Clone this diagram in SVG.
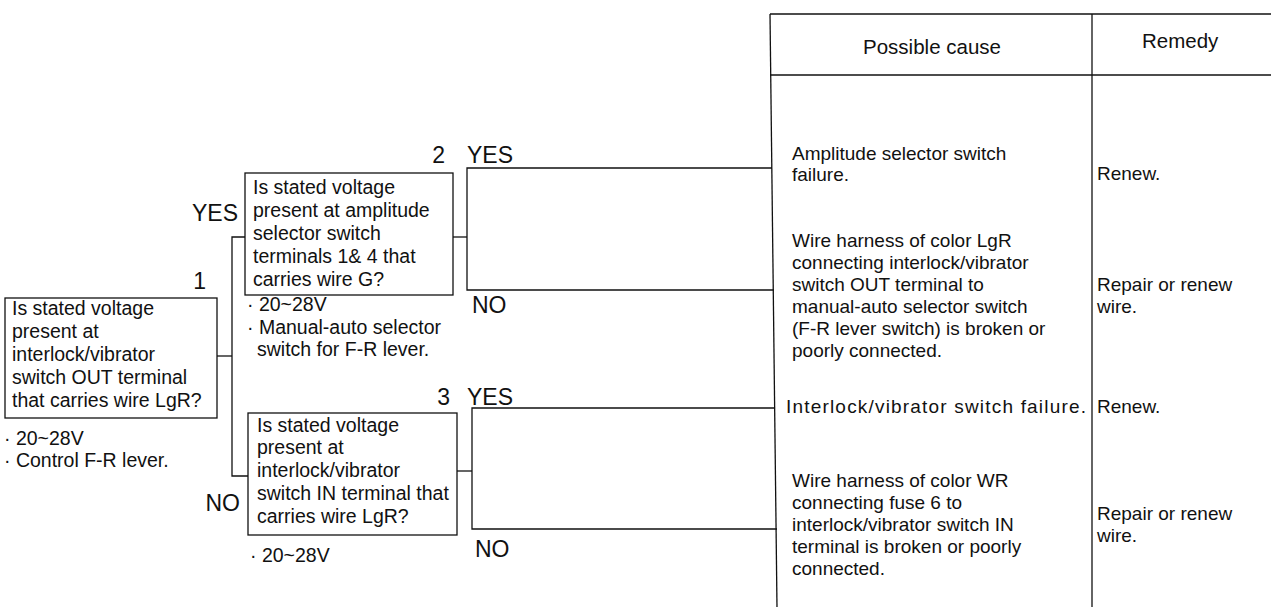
<svg xmlns="http://www.w3.org/2000/svg" width="1271" height="607" viewBox="0 0 1271 607">
  <style>
    .ln { stroke: #111; stroke-width: 1.3; fill: none; }
    .box { stroke: #111; stroke-width: 1.3; fill: #fff; }
    .t { font-family: "Liberation Sans", Arial, sans-serif; font-size: 19.5px; fill: #111; }
    .tc { font-family: "Liberation Sans", Arial, sans-serif; font-size: 19px; fill: #111; }
    .hd { font-family: "Liberation Sans", Arial, sans-serif; font-size: 20.5px; fill: #111; }
    .lb { font-family: "Liberation Sans", Arial, sans-serif; font-size: 23px; fill: #111; }
  </style>
  <rect width="1271" height="607" fill="#fff"/>

  <!-- connectors -->
  <g id="connectors">
    <!-- question 1 branches -->
    <path class="ln" d="M217,356 H232"/>
    <path class="ln" d="M245,237 H232 V476 H248"/>
    <!-- question 2 outcomes -->
    <path class="ln" d="M453,237 H467"/>
    <path class="ln" d="M772,168 H467 V290 H774"/>
    <!-- question 3 outcomes -->
    <path class="ln" d="M457,471 H472"/>
    <path class="ln" d="M775,408 H472 V529 H777"/>
  </g>

  <!-- step 1 -->
  <g id="q1">
    <rect class="box" x="5" y="298" width="212" height="120"/>
    <text class="t" x="12" y="315">Is stated voltage</text>
    <text class="t" x="12" y="338">present at</text>
    <text class="t" x="12" y="361">interlock/vibrator</text>
    <text class="t" x="12" y="384">switch OUT terminal</text>
    <text class="t" x="12" y="407">that carries wire LgR?</text>
    <text class="lb" x="206" y="289" text-anchor="end">1</text>
    <text class="t" x="4" y="445">· 20~28V</text>
    <text class="t" x="4" y="467">· Control F-R lever.</text>
  </g>

  <!-- step 2 -->
  <g id="q2">
    <rect class="box" x="245" y="173" width="208" height="122"/>
    <text class="t" x="253" y="194">Is stated voltage</text>
    <text class="t" x="253" y="217">present at amplitude</text>
    <text class="t" x="253" y="240">selector switch</text>
    <text class="t" x="253" y="263">terminals 1&amp; 4 that</text>
    <text class="t" x="253" y="286">carries wire G?</text>
    <text class="lb" x="445" y="163" text-anchor="end">2</text>
    <text class="t" x="247" y="311">· 20~28V</text>
    <text class="t" x="247" y="334">· Manual-auto selector</text>
    <text class="t" x="257" y="356">switch for F-R lever.</text>
  </g>

  <!-- step 3 -->
  <g id="q3">
    <rect class="box" x="248" y="413" width="209" height="122"/>
    <text class="t" x="257" y="432">Is stated voltage</text>
    <text class="t" x="257" y="454">present at</text>
    <text class="t" x="257" y="477">interlock/vibrator</text>
    <text class="t" x="257" y="500">switch IN terminal that</text>
    <text class="t" x="257" y="523">carries wire LgR?</text>
    <text class="lb" x="450" y="405" text-anchor="end">3</text>
    <text class="t" x="250" y="562">· 20~28V</text>
  </g>

  <!-- branch labels -->
  <g id="labels">
    <text class="lb" x="238" y="221" text-anchor="end">YES</text>
    <text class="lb" x="240" y="511" text-anchor="end">NO</text>
    <text class="lb" x="467" y="163">YES</text>
    <text class="lb" x="472" y="313">NO</text>
    <text class="lb" x="467" y="405">YES</text>
    <text class="lb" x="475" y="557">NO</text>
  </g>

  <!-- cause / remedy table -->
  <g id="table">
    <path class="ln" d="M770,14 L777,607"/>
    <path class="ln" d="M770,14 H1271"/>
    <path class="ln" d="M770,75 H1271"/>
    <path class="ln" d="M1092,14 V607"/>
    <text class="hd" x="932" y="54" text-anchor="middle">Possible cause</text>
    <text class="hd" x="1142" y="48">Remedy</text>
  </g>

  <g id="row1">
    <text class="tc" x="792" y="160">Amplitude selector switch</text>
    <text class="tc" x="792" y="181">failure.</text>
    <text class="tc" x="1097" y="180">Renew.</text>
  </g>

  <g id="row2">
    <text class="tc" x="792" y="247">Wire harness of color LgR</text>
    <text class="tc" x="792" y="269">connecting interlock/vibrator</text>
    <text class="tc" x="792" y="291">switch OUT terminal to</text>
    <text class="tc" x="792" y="313">manual-auto selector switch</text>
    <text class="tc" x="792" y="335">(F-R lever switch) is broken or</text>
    <text class="tc" x="792" y="357">poorly connected.</text>
    <text class="tc" x="1097" y="291">Repair or renew</text>
    <text class="tc" x="1097" y="313">wire.</text>
  </g>

  <g id="row3">
    <text class="tc" x="786" y="413" textLength="300" lengthAdjust="spacing">Interlock/vibrator switch failure.</text>
    <text class="tc" x="1097" y="413">Renew.</text>
  </g>

  <g id="row4">
    <text class="tc" x="792" y="487">Wire harness of color WR</text>
    <text class="tc" x="792" y="509">connecting fuse 6 to</text>
    <text class="tc" x="792" y="531">interlock/vibrator switch IN</text>
    <text class="tc" x="792" y="553">terminal is broken or poorly</text>
    <text class="tc" x="792" y="575">connected.</text>
    <text class="tc" x="1097" y="520">Repair or renew</text>
    <text class="tc" x="1097" y="542">wire.</text>
  </g>
</svg>
